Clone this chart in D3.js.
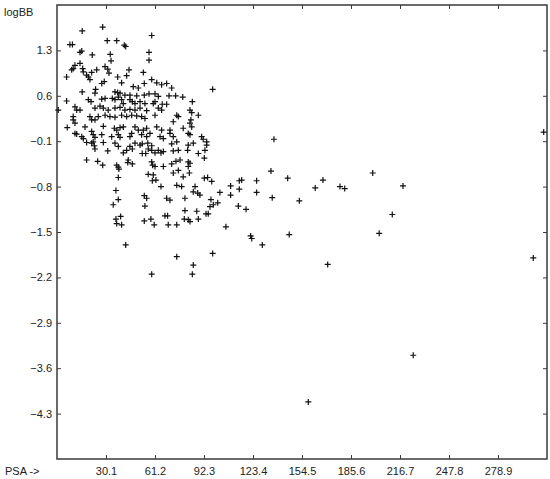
<!DOCTYPE html>
<html><head><meta charset="utf-8">
<script src="https://cdn.jsdelivr.net/npm/d3@7"></script>
<style>
html,body{margin:0;padding:0;background:#fff;}
svg{display:block;}
text{font-family:Arial,"Liberation Sans",sans-serif;font-size:11px;fill:#222;}
</style></head>
<body>
<script>
// Tick labels
const xTicks = [30.1, 61.2, 92.3, 123.4, 154.5, 185.6, 216.7, 247.8, 278.9];
const yTicks = [1.3, 0.6, -0.1, -0.8, -1.5, -2.2, -2.9, -3.6, -4.3];
const xDomain = [-1, 310];
const yDomain = [-5, 2];
const xLabel = "PSA ->";
const yLabel = "logBB";

// Series values (PSA, logBB)
const psa = [
28.0,15.0,59.1,30.9,36.9,7.2,8.8,41.7,42.6,14.7,13.6,21.4,57.4,32.8,57.4,33.3,13.6,10.4,8.3,9.3,
15.3,15.7,29.5,31.2,32.0,24.2,21.0,18.9,19.9,17.8,5.1,44.7,37.5,43.2,53.8,29.0,27.4,40.0,59.1,62.3,
65.4,68.6,71.8,54.4,47.4,50.6,97.8,15.0,23.5,23.1,35.8,37.5,39.0,42.1,45.3,49.6,54.4,57.4,61.2,63.3,
70.1,74.3,78.8,5.1,18.9,20.6,27.4,29.5,34.1,35.8,37.9,40.0,41.1,45.3,46.8,48.5,51.7,54.8,60.1,61.2,
65.8,68.6,84.9,-0.2,10.4,11.5,13.6,23.1,26.3,28.4,31.5,35.8,39.0,42.1,45.3,48.5,51.7,55.9,63.3,65.4,
83.4,84.5,9.3,9.3,10.4,19.9,21.0,23.1,25.2,29.5,32.6,35.8,40.0,43.2,46.4,49.6,52.7,54.8,61.2,75.0,
76.0,88.7,84.0,83.4,84.5,5.5,16.8,28.4,35.4,36.9,39.0,41.1,48.5,50.6,53.8,55.9,62.3,65.4,72.8,70.7,
79.1,11.5,14.7,15.7,21.0,22.0,23.1,27.4,33.7,37.9,39.0,45.3,46.4,52.7,55.9,58.0,64.4,66.5,70.7,72.8,
82.3,83.4,90.8,91.8,10.4,22.0,17.8,21.0,22.7,23.1,28.4,31.2,35.8,37.9,41.1,43.2,45.3,46.8,48.5,51.7,
53.1,53.1,55.3,56.6,56.9,59.1,59.1,61.2,63.3,65.0,66.5,71.8,72.8,75.0,76.0,82.3,81.9,85.5,88.7,92.9,
94.0,94.0,17.8,24.8,28.0,36.9,37.9,38.3,37.9,44.2,43.9,46.8,59.1,59.7,61.2,66.5,71.8,74.5,77.1,82.3,
83.4,82.3,92.5,56.9,60.1,61.8,59.5,72.8,76.0,79.1,83.0,65.0,75.0,78.1,92.5,94.6,97.2,86.6,85.5,88.3,
89.7,36.4,37.9,34.7,54.4,55.9,54.8,68.6,70.7,80.2,96.7,96.1,98.2,101.0,80.2,87.7,95.0,93.6,36.4,36.9,
39.4,40.0,54.4,58.6,60.7,67.5,69.2,69.6,75.0,79.8,82.3,83.4,88.7,42.6,97.8,75.0,85.5,59.1,84.9,102.4,
109.2,109.2,114.7,116.2,114.7,125.7,125.7,114.1,119.0,106.2,121.9,122.6,136.7,134.8,135.6,145.4,152.8,162.9,167.8,178.6,
181.6,199.4,218.6,211.8,203.5,146.4,129.3,170.8,301.3,307.9,225.1,158.5
];
const logbb = [
1.66,1.60,1.53,1.45,1.45,1.39,1.39,1.38,1.36,1.29,1.27,1.23,1.27,1.24,1.15,1.14,1.10,1.07,1.00,1.02,
1.02,0.97,1.05,1.01,0.95,1.00,0.96,0.89,0.85,0.92,0.89,1.00,0.89,0.91,0.96,0.82,0.79,0.80,0.85,0.80,
0.77,0.79,0.72,0.79,0.74,0.72,0.70,0.66,0.70,0.64,0.66,0.65,0.64,0.61,0.61,0.60,0.61,0.63,0.63,0.59,
0.60,0.60,0.58,0.52,0.54,0.51,0.55,0.56,0.56,0.54,0.58,0.54,0.48,0.54,0.51,0.48,0.51,0.48,0.48,0.51,
0.47,0.47,0.51,0.38,0.43,0.38,0.38,0.41,0.44,0.41,0.38,0.41,0.42,0.38,0.39,0.38,0.41,0.37,0.41,0.38,
0.38,0.34,0.28,0.23,0.18,0.28,0.23,0.23,0.28,0.30,0.28,0.27,0.30,0.28,0.30,0.29,0.28,0.25,0.30,0.30,
0.28,0.30,0.23,0.18,0.12,0.11,0.12,0.13,0.10,0.07,0.11,0.12,0.12,0.07,0.07,0.10,0.12,0.07,0.20,0.07,
0.10,0.01,-0.03,-0.06,0.05,0.00,-0.04,0.00,-0.03,0.00,-0.04,-0.03,0.02,0.00,-0.03,0.02,-0.03,-0.06,0.02,-0.03,
0.02,0.00,-0.03,-0.07,0.02,-0.11,-0.12,-0.13,-0.17,-0.22,-0.12,-0.25,-0.13,-0.18,-0.28,-0.24,-0.18,-0.22,-0.13,-0.16,
-0.14,-0.29,-0.29,-0.13,-0.22,-0.17,-0.24,-0.28,-0.24,-0.28,-0.26,-0.14,-0.25,-0.11,-0.24,-0.16,-0.24,-0.13,-0.29,-0.24,
-0.16,-0.11,-0.39,-0.41,-0.47,-0.47,-0.50,-0.53,-0.66,-0.39,-0.43,-0.45,-0.42,-0.47,-0.49,-0.49,-0.45,-0.41,-0.39,-0.42,
-0.44,-0.49,-0.36,-0.61,-0.62,-0.70,-0.71,-0.59,-0.55,-0.65,-0.59,-0.80,-0.78,-0.80,-0.67,-0.66,-0.72,-0.80,-0.88,-0.90,
-0.93,-0.86,-1.00,-1.08,-0.94,-0.98,-1.10,-0.98,-1.01,-0.98,-1.00,-1.11,-1.08,-1.05,-1.17,-1.18,-1.22,-1.22,-1.30,-1.37,
-1.26,-1.39,-1.33,-1.30,-1.39,-1.25,-1.25,-1.39,-1.39,-1.30,-1.31,-1.34,-1.30,-1.70,-1.83,-1.88,-2.01,-2.15,-2.15,-0.89,
-0.79,-0.93,-0.71,-0.70,-0.84,-0.71,-0.89,-1.10,-1.15,-1.42,-1.56,-1.60,-0.07,-0.56,-0.97,-0.67,-1.02,-0.82,-0.70,-0.80,
-0.83,-0.59,-0.79,-1.23,-1.52,-1.54,-1.70,-2.00,-1.90,0.04,-3.40,-4.12
];

const W = 550, H = 479;
const m = {left: 57, right: 3, top: 5, bottom: 20};
const svg = d3.select("body").append("svg").attr("width", W).attr("height", H);

const x = d3.scaleLinear().domain(xDomain).range([m.left, W - m.right]);
const y = d3.scaleLinear().domain(yDomain).range([H - m.bottom, m.top]);

const axisColor = "#3a3a3a";
function styleAxis(g) {
  g.select(".domain").remove();
  g.selectAll(".tick line").attr("stroke", axisColor).attr("stroke-width", 1);
  g.selectAll(".tick text").attr("fill", "#222").style("font-family", "Arial, 'Liberation Sans', sans-serif").style("font-size", "11px");
}

svg.append("g").attr("transform", `translate(0,${H - m.bottom})`)
  .call(d3.axisBottom(x).tickValues(xTicks).tickFormat(d3.format(".1f")).tickSize(-4).tickSizeOuter(0).tickPadding(8))
  .call(styleAxis);
svg.append("g").attr("transform", `translate(0,${m.top})`)
  .call(d3.axisTop(x).tickValues(xTicks).tickFormat("").tickSize(-4).tickSizeOuter(0))
  .call(styleAxis);
svg.append("g").attr("transform", `translate(${m.left},0)`)
  .call(d3.axisLeft(y).tickValues(yTicks).tickFormat(d3.format(".1f")).tickSize(-4).tickSizeOuter(0).tickPadding(5))
  .call(styleAxis);
svg.append("g").attr("transform", `translate(${W - m.right},0)`)
  .call(d3.axisRight(y).tickValues(yTicks).tickFormat("").tickSize(-4).tickSizeOuter(0))
  .call(styleAxis);

svg.append("rect")
  .attr("x", m.left).attr("y", m.top)
  .attr("width", W - m.left - m.right).attr("height", H - m.top - m.bottom)
  .attr("fill", "none").attr("stroke", axisColor).attr("stroke-width", 1.5);

const pts = psa.map((v, i) => [v, logbb[i]]);
const s = 3;
svg.append("g").selectAll("path").data(pts).join("path")
  .attr("d", d => `M${x(d[0]) - s},${y(d[1])}h${2*s}M${x(d[0])},${y(d[1]) - s}v${2*s}`)
  .attr("stroke", "#111").attr("stroke-width", 1.2).attr("fill", "none");

svg.append("text").attr("x", 4).attr("y", 16).text(yLabel);
svg.append("text").attr("x", 5).attr("y", 475).text(xLabel);
</script>
</body></html>
